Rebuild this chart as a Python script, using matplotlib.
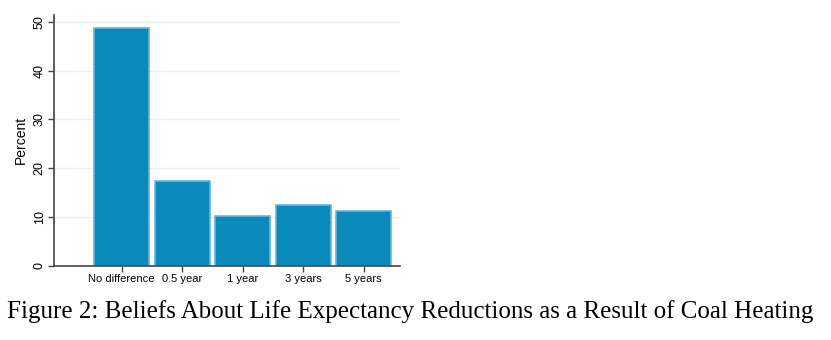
import matplotlib
matplotlib.use("Agg")
import matplotlib.pyplot as plt
import numpy as np

categories = ["No difference", "0.5 year", "1 year", "3 years", "5 years"]
percent = [48.8, 17.3, 10.1, 12.5, 11.3]
y_ticks = [0, 10, 20, 30, 40, 50]
caption = "Figure 2: Beliefs About Life Expectancy Reductions as a Result of Coal Heating"

W, H = 831, 340
fig = plt.figure(figsize=(W / 100, H / 100), dpi=100)
ax = fig.add_axes([54 / W, 1 - 265.7 / H, (400 - 54) / W, (265.7 - 15) / H])

x = np.arange(len(categories))
ax.bar(x, percent, width=0.91, color="#0a89bb", edgecolor="#63b6dc",
       linewidth=1.2, zorder=2)

ax.set_xlim(-1.12, 4.6)
ax.set_ylim(0, 51.4)
ax.set_yticks(y_ticks)
ax.set_yticklabels([str(t) for t in y_ticks], rotation=90, va="center",
                   family="Liberation Sans", fontsize=9)
ax.set_xticks(x)
ax.set_xticklabels(categories, family="Liberation Sans", fontsize=8)
ax.set_ylabel("Percent", family="Liberation Sans", fontsize=10, labelpad=4)

for t in y_ticks[1:]:
    ax.axhline(t, color="#e6eff1", linewidth=1.0, zorder=1)

for side in ("top", "right"):
    ax.spines[side].set_visible(False)
for side in ("left", "bottom"):
    ax.spines[side].set_color("#444444")
    ax.spines[side].set_linewidth(1.2)
ax.tick_params(axis="both", colors="#444444", length=4, width=1.0,
               labelcolor="black", pad=2)

fig.text(410 / W, 1 - 318 / H, caption, ha="center", va="baseline",
         family="Liberation Serif", fontsize=18)

fig.savefig("out.png", dpi=100)
